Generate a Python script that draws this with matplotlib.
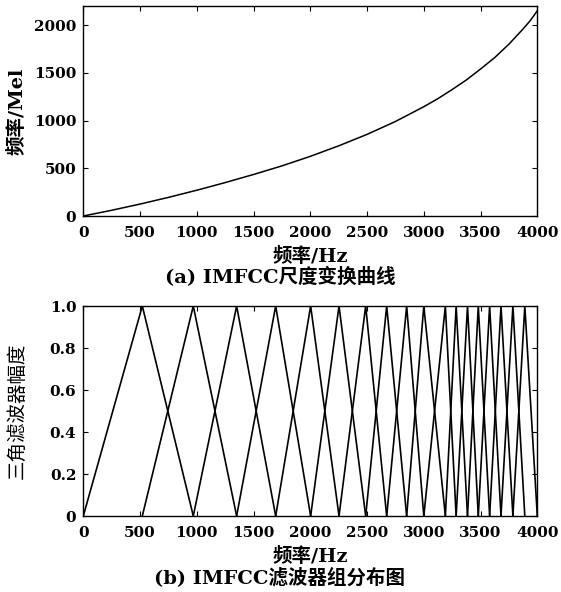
import matplotlib
matplotlib.use("Agg")
import matplotlib.pyplot as plt

plt.rcParams['font.family'] = ['DejaVu Serif', 'Noto Sans CJK SC']
plt.rcParams['axes.unicode_minus'] = False

# (a) IMFCC 尺度变换曲线
freq_hz = [0, 250, 500, 750, 1000, 1250, 1500, 1750, 2000, 2250, 2500, 2750,
           3000, 3125, 3250, 3375, 3500, 3625, 3750, 3875, 3940, 4000]
freq_mel = [0, 60, 125, 195, 270, 350, 435, 525, 625, 735, 855, 990,
            1145, 1230, 1325, 1425, 1540, 1660, 1800, 1960, 2050, 2150]

# (b) pontos de borda dos filtros triangulares (Hz)
filter_edges = [0, 520, 969, 1351, 1695, 2003, 2253, 2488, 2673, 2849, 3000,
                3190, 3285, 3385, 3480, 3580, 3680, 3785, 3890, 4000]

xticks = [0, 500, 1000, 1500, 2000, 2500, 3000, 3500, 4000]
mel_yticks = [0, 500, 1000, 1500, 2000]
amp_yticks = [0, 0.2, 0.4, 0.6, 0.8, 1.0]
amp_yticklabels = ['0', '0.2', '0.4', '0.6', '0.8', '1.0']

W, H = 561, 592
fig = plt.figure(figsize=(W / 100, H / 100), dpi=100)
fig.set_facecolor("white")

ax1 = fig.add_axes([83.3 / W, 1 - 216 / H, 454 / W, 210 / H])
ax2 = fig.add_axes([83.3 / W, 1 - 516 / H, 454 / W, 210 / H])

ax1.plot(freq_hz, freq_mel, color='black', linewidth=1.1)
ax1.set_xlim(0, 4000)
ax1.set_ylim(0, 2200)
ax1.set_yticks(mel_yticks)

for i in range(len(filter_edges) - 2):
    lo, c, hi = filter_edges[i], filter_edges[i + 1], filter_edges[i + 2]
    ax2.plot([lo, c, hi], [0, 1, 0], color='black', linewidth=1.2)
ax2.set_xlim(0, 4000)
ax2.set_ylim(0, 1.0)
ax2.set_yticks(amp_yticks)
ax2.set_yticklabels(amp_yticklabels)

for ax in (ax1, ax2):
    ax.set_xticks(xticks)
    ax.tick_params(direction='in', top=True, right=True, length=3.5, width=0.8,
                   labelsize=11)
    ax.tick_params(axis='x', pad=7)
    ax.tick_params(axis='y', pad=5)
    for lab in ax.get_xticklabels() + ax.get_yticklabels():
        lab.set_fontweight('bold')
    for sp in ax.spines.values():
        sp.set_linewidth(1.0)

# rotulos e legendas
fig.text(310 / W, 1 - 256 / H, '频率/Hz', ha='center', va='center', fontsize=14, fontweight='bold')
fig.text(280 / W, 1 - 277 / H, '(a) IMFCC尺度变换曲线', ha='center', va='center', fontsize=14, fontweight='bold')
fig.text(17 / W, 1 - 111 / H, '频率/Mel', ha='center', va='center', rotation=90, fontsize=14, fontweight='bold')

fig.text(310 / W, 1 - 556 / H, '频率/Hz', ha='center', va='center', fontsize=14, fontweight='bold')
fig.text(280 / W, 1 - 577 / H, '(b) IMFCC滤波器组分布图', ha='center', va='center', fontsize=14, fontweight='bold')
fig.text(17 / W, 1 - 411 / H, '三角滤波器幅度', ha='center', va='center', rotation=90, fontsize=14)

fig.savefig("out.png", dpi=100)
